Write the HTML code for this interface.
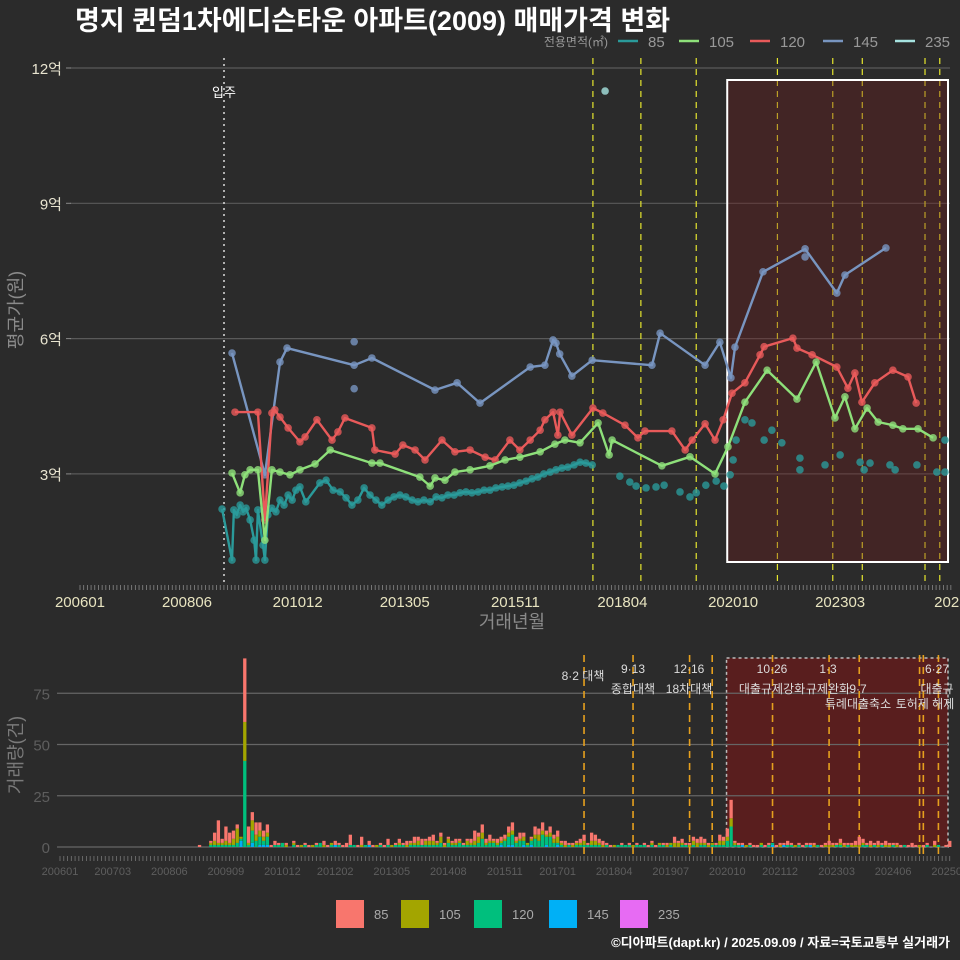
<!DOCTYPE html>
<html><head><meta charset="utf-8">
<style>
html,body{margin:0;padding:0;background:#2b2b2b;}
svg{display:block;font-family:"Liberation Sans","Noto Sans CJK KR",sans-serif;}
</style></head>
<body>
<svg id="chart" width="960" height="960" viewBox="0 0 960 960">
<rect x="0" y="0" width="960" height="960" fill="#2b2b2b"/>
<text x="75" y="30" fill="#ffffff" font-size="27" font-weight="bold">명지 퀸덤1차에디슨타운 아파트(2009) 매매가격 변화</text>
<g id="topLegend">
<text x="608" y="46" fill="#999" font-size="12" text-anchor="end">전용면적(㎡)</text>
</g>
<g id="topPanel"></g>
<g id="bottomPanel"></g>
<g id="bottomLegend"></g>
<text x="950" y="947" fill="#ffffff" font-size="13" font-weight="bold" text-anchor="end">©디아파트(dapt.kr) / 2025.09.09 / 자료=국토교통부 실거래가</text>
</svg>
<script>
// ---------- data ----------
const sizeLabels = ["85","105","120","145","235"];
const lineColors = ["#2a9a9a","#8ee07a","#e85a5a","#7895c0","#a6e3e0"];
const barColors = ["#f8766d","#a3a500","#00bf7d","#00b0f6","#e76bf3"];

const yTicks = [3,6,9,12];
const yTickLabels = ["3억","6억","9억","12억"];
const xTickMonths = [0,29,59,88,118,147,177,206,236];
const xTickLabels = ["200601","200806","201012","201305","201511","201804","202010","202303","2025"];

const m85 = [38.5,41.2,41.7,42.5,43.4,44.2,45,46.1,47.2,47.7,48.2,49.6,50.1,50.9,52,53.1,54.2,55.3,56.4,57.5,58.5,59.6,61.2,65,66.7,68.6,70.5,72.1,73.7,75.3,77,78.6,80.2,81.8,83.5,85.1,86.7,88.3,90,91.6,93.2,94.9,96.5,98.1,99.7,101.4,103,104.6,106.2,107.9,109.5,111.1,112.7,114.4,116,117.6,119.2,120.9,122.5,124.1,125.7,127.4,129,130.6,132.2,133.9,135.5,137.1,138.8,146.3,149,150.7,153.4,156.1,158.3,162.6,165.3,167,169.6,172.4,174.5,176.2,177,177.8,180.2,182.1,185.4,187.5,190.2,195.1,195.1,201.9,206,211.4,212.5,214.1,219.5,220.9,226.8,232.2,234.4,234.4];
const v85 = [2.22,1.09,2.20,2.09,2.31,2.16,2.24,1.98,1.53,1.09,2.20,1.42,1.09,2.09,2.24,2.16,2.42,2.31,2.53,2.42,2.64,2.71,2.38,2.80,2.86,2.64,2.60,2.47,2.31,2.42,2.69,2.53,2.42,2.31,2.42,2.49,2.53,2.49,2.42,2.38,2.42,2.38,2.49,2.47,2.53,2.53,2.58,2.60,2.58,2.60,2.64,2.64,2.69,2.71,2.73,2.75,2.80,2.84,2.89,2.93,3.00,3.04,3.09,3.13,3.15,3.20,3.26,3.24,3.20,2.95,2.82,2.73,2.69,2.71,2.75,2.60,2.49,2.58,2.75,2.84,2.73,2.98,3.31,3.75,4.20,4.13,3.75,3.97,3.69,3.35,3.09,3.20,3.42,3.26,3.09,3.24,3.20,3.09,3.20,3.04,3.75,3.04];

const m105 = [41.2,43.4,44.7,46.1,48.2,50.1,52.0,54.2,56.9,59.6,63.7,67.8,79.1,81.3,92.1,94.9,96.2,98.9,101.6,105.7,111.1,115.2,119.2,124.7,128.7,131.4,135.5,140.4,143.4,144.2,157.7,165.3,172.1,175.6,180.2,186.2,194.3,199.5,204.6,207.3,210.0,213.3,216.3,220.3,223.0,227.1,231.2];
const v105 = [3.02,2.58,2.98,3.09,3.09,1.53,3.09,3.04,2.98,3.09,3.22,3.53,3.24,3.24,2.93,2.73,2.91,2.86,3.04,3.09,3.18,3.31,3.37,3.49,3.66,3.75,3.69,4.13,3.42,3.75,3.18,3.38,3.00,3.60,4.59,5.30,4.66,5.48,4.24,4.71,4.00,4.46,4.15,4.08,4.00,4.00,3.80];

const m120 = [42.0,48.2,50.1,52.0,52.8,54.2,56.4,59.6,61.0,64.2,68.3,69.9,71.8,79.1,79.9,85.4,87.5,90.8,93.5,98.1,101.6,105.7,109.8,112.5,116.5,119.2,122.0,124.7,126.0,128.2,129.5,130.1,133.3,139.0,141.7,147.7,151.2,153.1,160.4,164.0,165.9,169.4,172.1,174.3,176.7,180.2,184.3,185.4,193.2,194.3,198.4,205.1,208.1,210.0,211.9,215.4,220.3,224.4,226.6];
const v120 = [4.37,4.37,1.98,4.35,4.42,4.26,4.02,3.71,3.82,4.20,3.75,3.93,4.24,4.02,3.53,3.44,3.64,3.53,3.31,3.75,3.49,3.53,3.37,3.31,3.75,3.53,3.75,3.97,4.20,4.37,3.86,4.37,3.86,4.46,4.35,4.08,3.80,3.95,3.95,3.53,3.75,4.11,3.75,4.20,4.79,5.02,5.64,5.82,6.01,5.79,5.64,5.37,4.90,5.24,4.59,5.02,5.30,5.15,4.57];

const m145 = [41.2,50.1,54.2,56.1,74.3,79.1,96.2,102.2,108.4,122,126,128.2,129,130,133.3,138.8,155,157.2,169.4,173.4,176.4,177.5,185.1,196.5,205.1,207.3,218.4];
const v145 = [5.68,2.98,5.48,5.79,5.41,5.57,4.86,5.02,4.57,5.37,5.41,5.97,5.90,5.66,5.17,5.52,5.41,6.12,5.41,5.92,5.13,5.81,7.48,7.99,7.01,7.41,8.01];
const m145extra = [74.3,74.3,196.5];
const v145extra = [5.93,4.89,7.81];

const m235 = [142.3];
const v235 = [11.49];

const policyMonths = [139,152,167,189,204,212,229,233];
const bottomPolicyMonths = [139,152,167,173,189,204,212,228,229,233];

const volStart = 37;
const vol85 = [1,0,0,1,4,11,2,7,5,4, 2,0,31,8,4,6,4,3,4,1, 2,1,0,1,0,1,1,0,1,1, 0,1,0,2,1,0,2,1,1,2, 5,0,1,4,0,2,1,0,1,1, 3,0,1,2,1,2,1,3,2,3, 1,2,3,1,2,1,1,1,2,1, 1,1,2,5,2,4,2,3,1,2, 2,2,3,4,2,3,2,0,1,4, 3,4,2,3,2,3,1,2,1,1, 1,2,3,1,4,3,2,2,1,1, 0,0,1,0,1,0,1,0,1,1, 1,1,0,1,1,0,3,1,2,1, 1,2,2,3,2,1,0,1,3,2, 4,9,1,1,1,0,1,1,1,0, 1,1,0,1,1,1,2,1,0,1, 1,1,1,1,0,1,1,2,1,1, 2,1,1,1,2,4,2,1,2,1, 2,1,2,1,1,1,1,0,1,2, 1,0,1,1,0,2,0,0,1,3];
const vol105 = [0,0,0,1,2,1,1,2,1,3, 7,1,19,1,5,3,3,2,2,0, 0,0,0,1,0,1,0,1,0,0, 1,0,0,1,0,1,0,0,0,0, 0,0,0,1,0,0,0,1,0,0, 0,1,0,1,0,1,1,1,2,0, 2,2,2,1,3,1,2,1,1,1, 0,2,1,2,3,3,1,1,1,1, 1,1,2,2,1,1,2,1,1,2, 3,2,1,2,2,3,1,1,0,1, 1,1,2,0,2,2,1,1,0,0, 1,0,0,0,0,1,0,0,0,0, 1,0,1,0,1,1,2,2,1,0, 1,2,2,1,1,1,1,0,2,2, 2,4,1,0,0,1,0,0,0,1, 0,0,0,0,1,0,0,0,1,0, 0,0,0,1,0,0,1,1,1,0, 1,1,0,1,1,1,1,0,1,0, 1,0,1,1,0,1,0,0,0,0, 0,1,0,0,0,1,0,0,0,0];
const vol120 = [0,0,0,1,1,1,1,1,1,1, 2,1,42,1,6,3,4,2,4,0, 1,1,2,0,0,1,0,0,1,0, 0,1,2,0,0,1,0,1,0,0, 1,1,0,0,1,0,0,0,1,0, 1,0,1,1,1,0,1,1,1,1, 1,1,1,1,2,0,2,1,1,2, 1,1,1,1,2,4,1,2,2,1, 1,3,4,5,2,3,2,1,2,4, 3,6,4,5,2,1,1,0,1,0, 1,1,1,1,1,1,1,0,1,0, 0,1,1,1,1,0,1,1,1,0, 1,0,1,1,0,1,0,0,1,1, 0,1,0,1,1,0,1,1,1,1, 3,10,1,1,0,0,1,0,0,1, 0,1,1,0,0,0,1,1,0,1, 0,1,0,0,1,0,0,0,0,1, 1,0,1,0,0,0,1,1,0,1, 0,1,0,0,1,0,0,1,0,0, 0,0,0,1,0,0,1,0,0,0];
const vol145 = [0,0,0,0,0,0,0,0,0,0, 0,3,0,0,2,0,1,1,1,0, 0,0,0,0,0,0,0,0,0,0, 0,0,0,0,0,0,1,0,0,0, 0,0,0,0,0,1,0,0,0,0, 0,0,0,0,0,0,0,0,0,0, 0,0,0,0,0,0,0,0,0,0, 0,0,0,0,0,0,0,0,0,0, 1,0,1,1,0,0,1,0,1,0, 0,0,1,0,0,1,0,0,0,0, 0,0,0,0,0,0,0,0,0,0, 0,0,0,0,0,0,0,0,0,0, 0,0,0,0,0,0,0,0,0,0, 0,0,0,0,0,0,0,0,0,0, 0,0,0,0,1,0,0,0,0,0, 0,0,1,0,0,1,0,0,0,0, 0,0,1,0,0,0,0,0,0,0, 0,0,0,0,0,0,0,0,0,0, 0,0,0,0,0,0,0,0,0,0, 0,0,0,0,0,0,0,0,0,0];

const volTicks = [0,25,50,75];
const bXTickMonths = [0,14,29,44,59,73,88,103,118,132,147,162,177,191,206,221,236];
const bXTickLabels = ["200601","200703","200806","200909","201012","201202","201305","201408","201511","201701","201804","201907","202010","202112","202303","202406","202509"];

const policyLabels1 = [["8·2 대책",583,680],["9·13",633,673],["12·16",689,673],["10·26",772,673],["1·3",828,673],["6·27",937,673]];
const policyLabels2 = [["종합대책",633,693],["18차대책",689,693],["대출규제강화",772,693],["규제완화",828,693],["9·7",858,693],["대출규",937,693]];
const policyLabels3 = [["특례대출축소",858,708],["토허제 해제",925,708]];

// ---------- scales ----------
const xt = m => 80 + 3.69*m;
const yt = v => 68 + (12 - v)*45.1;
const xb = m => 60 + 3.77*m;
const yb = n => 847 - 2.05*n;

const NS = "http://www.w3.org/2000/svg";
function mk(parent, tag, attrs){
  const el = document.createElementNS(NS, tag);
  for (const k in attrs) el.setAttribute(k, attrs[k]);
  parent.appendChild(el);
  return el;
}
const topG = document.getElementById("topPanel");
const bottomG = document.getElementById("bottomPanel");
const tl = document.getElementById("topLegend");
const bl = document.getElementById("bottomLegend");

// ---------- top legend ----------
const legX = [618,679,750,823,895];
for (let i=0;i<5;i++){
  const ln = mk(tl,"line",{x1:legX[i],y1:41,x2:legX[i]+20,y2:41,stroke:lineColors[i],"stroke-width":2.5});
  
  
  const t = mk(tl,"text",{x:legX[i]+30,y:47,fill:"#999","font-size":15});
  t.textContent = sizeLabels[i];
  
  
}

// ---------- top panel ----------
for (let i=0;i<yTicks.length;i++){
  const y = yt(yTicks[i]);
  const g = mk(topG,"line",{x1:70,y1:y,x2:950,y2:y,stroke:"#5a5a5a","stroke-width":1.2});
  
  
  mk(topG,"line",{x1:66,y1:y,x2:71,y2:y,stroke:"#888","stroke-width":1});
  const t = mk(topG,"text",{x:62,y:y+6,fill:"#e8e4d0","font-size":15,"text-anchor":"end"});
  t.textContent = yTickLabels[i];
  
  
}
for (let m=0;m<=236;m++){
  mk(topG,"line",{x1:xt(m),y1:585,x2:xt(m),y2:590,stroke:"#888","stroke-width":0.8});
}
for (let i=0;i<xTickMonths.length;i++){
  const t = mk(topG,"text",{x:xt(xTickMonths[i]),y:607,fill:"#e8e4c0","font-size":15,"text-anchor":"middle"});
  t.textContent = xTickLabels[i];
  
  
}
let t0 = mk(topG,"text",{x:512,y:628,fill:"#8a8a8a","font-size":18,"text-anchor":"middle"});
t0.textContent = "거래년월";


t0 = mk(topG,"text",{x:0,y:0,fill:"#8a8a8a","font-size":18,"text-anchor":"middle",transform:"translate(22,310) rotate(-90)"});
t0.textContent = "평균가(원)";



const mi = mk(topG,"line",{x1:224,y1:58,x2:224,y2:585,stroke:"#dddddd","stroke-width":1.5,"stroke-dasharray":"2,4"});


t0 = mk(topG,"text",{x:224,y:97,fill:"#ffffff","font-size":13,"text-anchor":"middle"});
t0.textContent = "입주";



for (const pm of policyMonths){
  const l = mk(topG,"line",{x1:xt(pm),y1:58,x2:xt(pm),y2:585,stroke:"#e6e62e","stroke-width":1.2,"stroke-dasharray":"6,5"});
  
  
}
const reg = mk(topG,"rect",{x:xt(175.4),y:80,width:948-xt(175.4),height:482,fill:"rgba(110,25,25,0.35)",stroke:"#ffffff","stroke-width":2});



function series(ms, vs, idx, drawLine, maxM){
  const g = mk(topG,"g",{});
  
  
  if (drawLine){
    let d = "";
    for (let i=0;i<ms.length;i++){
      if (maxM!==undefined && ms[i]>maxM) break;
      d += (d?"L":"M")+xt(ms[i]).toFixed(1)+","+yt(vs[i]).toFixed(1);
    }
    const p = mk(g,"path",{d:d,fill:"none",stroke:lineColors[idx],"stroke-width":2.4,"stroke-linejoin":"round"});
    
    
  }
  for (let i=0;i<ms.length;i++){
    const c = mk(g,"circle",{cx:xt(ms[i]),cy:yt(vs[i]),r:3.8,fill:lineColors[idx],"fill-opacity":0.8});
    
    
  }
}
series(m85, v85, 0, true, 139);
series(m145, v145, 3, true);
series(m145extra, v145extra, 3, false);
series(m120, v120, 2, true);
series(m105, v105, 1, true);
series(m235, v235, 4, false);

// ---------- bottom panel ----------
const breg = mk(bottomG,"rect",{x:xb(176.8),y:658,width:948-xb(176.8),height:189,fill:"rgba(110,25,25,0.7)",stroke:"#bbbbbb","stroke-width":1.5,"stroke-dasharray":"3,3"});


for (const v of volTicks){
  const y = yb(v);
  const g = mk(bottomG,"line",{x1:57,y1:y,x2:948,y2:y,stroke:"#666","stroke-width":1.2});
  
  
  const t = mk(bottomG,"text",{x:50,y:y+6,fill:"#5e5e5e","font-size":15,"text-anchor":"end"});
  t.textContent = v;
  
  
}
t0 = mk(bottomG,"text",{x:0,y:0,fill:"#7a7a7a","font-size":18,"text-anchor":"middle",transform:"translate(22,755) rotate(-90)"});
t0.textContent = "거래량(건)";


for (const pm of bottomPolicyMonths){
  const l = mk(bottomG,"line",{x1:xb(pm),y1:655,x2:xb(pm),y2:855,stroke:"#e6a01e","stroke-width":1.6,"stroke-dasharray":"7,5"});
  
  
}
const vols = [vol85, vol105, vol120, vol145];
for (let i=0;i<vol85.length;i++){
  const m = volStart + i;
  let acc = 0;
  for (let s=3;s>=0;s--){
    const n = vols[s][i];
    if (!n) continue;
    const r = mk(bottomG,"rect",{x:xb(m)-1.6,y:yb(acc+n),width:3.3,height:yb(acc)-yb(acc+n),fill:barColors[s]});
    
    
    acc += n;
  }
}
for (let m=0;m<=236;m++){
  mk(bottomG,"line",{x1:xb(m),y1:856,x2:xb(m),y2:861,stroke:"#777","stroke-width":0.8});
}
for (let i=0;i<bXTickMonths.length;i++){
  const t = mk(bottomG,"text",{x:xb(bXTickMonths[i]),y:875,fill:"#5e5e5e","font-size":11,"text-anchor":"middle"});
  t.textContent = bXTickLabels[i];
  
  
}
for (const arr of [policyLabels1, policyLabels2, policyLabels3]){
  for (const [txt,x,y] of arr){
    const t = mk(bottomG,"text",{x:x,y:y,fill:"#dddddd","font-size":12,"text-anchor":"middle"});
    t.textContent = txt;
    
    
  }
}

// ---------- bottom legend ----------
const blX = [336,401,474,549,620];
for (let i=0;i<5;i++){
  const r = mk(bl,"rect",{x:blX[i],y:900,width:28,height:28,fill:barColors[i]});
  
  
  const t = mk(bl,"text",{x:blX[i]+38,y:919,fill:"#aaa","font-size":13});
  t.textContent = sizeLabels[i];
  
  
}
</script>
</body></html>
